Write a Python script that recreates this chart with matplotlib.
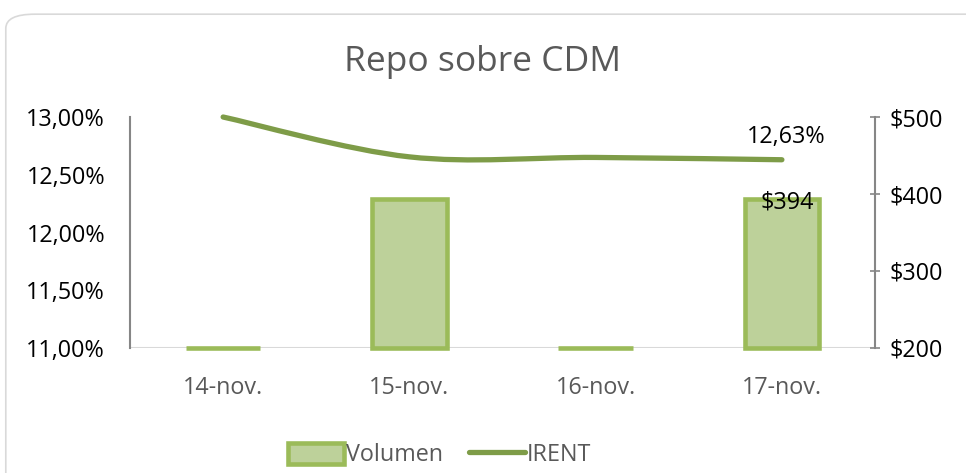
import numpy as np
import matplotlib.pyplot as plt
from matplotlib.path import Path
from matplotlib.patches import PathPatch, FancyBboxPatch, Patch
from matplotlib.lines import Line2D
from matplotlib.ticker import FuncFormatter

plt.rcParams['font.family'] = ['Open Sans', 'DejaVu Sans']

# data
fechas = ['14-nov.', '15-nov.', '16-nov.', '17-nov.']
volumen = [0, 394, 0, 394]          # millones, eje derecho
irent = [13.00, 12.655, 12.65, 12.63]  # %, eje izquierdo

bar_fill = '#BDD19A'
bar_edge = '#9BBB59'
line_col = '#7E9C48'
grey_txt = '#595959'
fs = 16.8

fig = plt.figure(figsize=(9.66, 4.73), dpi=100)

# rounded chart border
border = FancyBboxPatch((0.006, -0.05), 1.05, 1.02, boxstyle='round,pad=0,rounding_size=0.03',
                        transform=fig.transFigure, facecolor='white', edgecolor='#D9D9D9',
                        linewidth=1.2, zorder=-5)
fig.patches.append(border)

ax = fig.add_axes([0.1346, 0.2643, 0.7712, 0.4883])
ax2 = ax.twinx()
ax.patch.set_visible(False)
ax2.patch.set_visible(False)

x = np.arange(len(fechas))

# bars on right axis (base at axis minimum 200)
base = 200
alturas = [max(v - base, 0) for v in volumen]
ax2.bar(x, alturas, bottom=base, width=0.4, color=bar_fill, edgecolor=bar_edge,
        linewidth=3.3, clip_on=False, zorder=2)

# smoothed line (Excel-like Catmull-Rom bezier)
y = np.array(irent)
pts = np.column_stack([x, y])
ext = np.vstack([pts[0], pts, pts[-1]])
verts = [tuple(pts[0])]
codes = [Path.MOVETO]
for i in range(len(pts) - 1):
    p0, p1, p2, p3 = ext[i], ext[i + 1], ext[i + 2], ext[i + 3]
    c1 = p1 + (p2 - p0) / 6
    c2 = p2 - (p3 - p1) / 6
    verts += [tuple(c1), tuple(c2), tuple(p2)]
    codes += [Path.CURVE4] * 3
ax.add_patch(PathPatch(Path(verts, codes), facecolor='none', edgecolor=line_col,
                       linewidth=3.8, capstyle='round', zorder=3, clip_on=False))

ax.set_xlim(-0.5, 3.5)
ax.set_ylim(11, 13)
ax2.set_ylim(200, 500)
ax.set_yticks([11, 11.5, 12, 12.5, 13])
ax2.set_yticks([200, 300, 400, 500])
ax.yaxis.set_major_formatter(FuncFormatter(lambda v, p: f'{v:.2f}'.replace('.', ',') + '%'))
ax2.yaxis.set_major_formatter(FuncFormatter(lambda v, p: f'${v:.0f}'))

ax.set_xticks(x)
ax.set_xticklabels(fechas)
ax.tick_params(axis='x', length=0, pad=20, labelsize=fs, labelcolor=grey_txt)
ax.tick_params(axis='y', length=0, pad=18, labelsize=fs, labelcolor='black')
ax2.tick_params(axis='y', length=7, width=1.2, color='#868686', pad=7, labelsize=fs,
                labelcolor='black', direction='inout')

for a in (ax, ax2):
    a.spines['top'].set_visible(False)
    a.spines['bottom'].set_visible(False)
ax.spines['right'].set_visible(False)
ax2.spines['left'].set_visible(False)
ax.spines['left'].set_color('#868686')
ax.spines['left'].set_linewidth(1.5)
ax2.spines['right'].set_color('#868686')
ax2.spines['right'].set_linewidth(1.5)
ax.axhline(11, color='#D9D9D9', linewidth=1.5, zorder=1)

# data labels
ax.annotate(f'{irent[-1]:.2f}'.replace('.', ',') + '%', (x[-1], irent[-1]),
            xytext=(3, 8), textcoords='offset points', ha='center', va='bottom', fontsize=fs)
ax2.annotate(f'${volumen[-1]}', (x[-1], volumen[-1]), xytext=(4, -3),
             textcoords='offset points', ha='center', va='center', fontsize=fs)

fig.text(0.5, 0.868, 'Repo sobre CDM', ha='center', va='center', fontsize=25.5, color=grey_txt)

handles = [Patch(facecolor=bar_fill, edgecolor=bar_edge, linewidth=3.3),
           Line2D([0], [0], color=line_col, linewidth=3.8, solid_capstyle='round')]
fig.legend(handles, ['Volumen', 'IRENT'], loc='center', bbox_to_anchor=(0.455, 0.038), ncol=2,
           frameon=False, fontsize=fs, handlelength=2.4, handleheight=1.0, handletextpad=0.1,
           columnspacing=1.1, labelcolor=grey_txt)

fig.savefig('out.png', dpi=100)
